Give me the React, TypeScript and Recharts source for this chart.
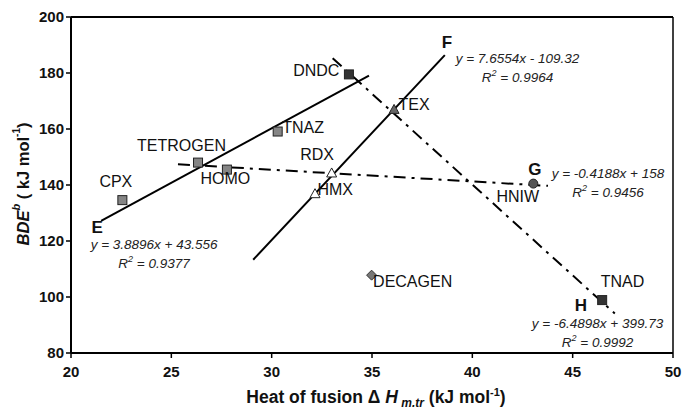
import { ScatterChart, Scatter, XAxis, YAxis, ReferenceLine, LabelList } from 'recharts';

const FONT = '"Liberation Sans", Arial, Helvetica, sans-serif';

// compounds, grouped by marker
const graySquares = [
  { name: 'CPX', x: 22.56, y: 134.6 },
  { name: 'TETROGEN', x: 26.33, y: 148.0 },
  { name: 'HOMO', x: 27.77, y: 145.5 },
  { name: 'TNAZ', x: 30.3, y: 159.1 },
];
const darkSquares = [
  { name: 'DNDC', x: 33.85, y: 179.5 },
  { name: 'TNAD', x: 46.47, y: 98.9 },
];
const filledTriangles = [{ name: 'TEX', x: 36.1, y: 167.0 }];
const openTriangles = [
  { name: 'RDX', x: 32.99, y: 144.3 },
  { name: 'HMX', x: 32.16, y: 136.9 },
];
const circles = [{ name: 'HNIW', x: 43.04, y: 140.5 }];
const diamonds = [{ name: 'DECAGEN', x: 34.98, y: 107.8 }];

// fitted lines, end points
const lineE = [{ x: 21.5, y: 127.2 }, { x: 34.85, y: 179.1 }];
const lineF = [{ x: 29.08, y: 113.3 }, { x: 38.63, y: 186.4 }];
const lineG = [{ x: 25.33, y: 147.4 }, { x: 43.77, y: 139.7 }];
const lineH = [{ x: 33.04, y: 185.3 }, { x: 47.1, y: 94.1 }];

const letters = [
  { text: 'E', x: 21.3, y: 124.8 },
  { text: 'F', x: 38.74, y: 190.9 },
  { text: 'G', x: 43.12, y: 145.5 },
  { text: 'H', x: 45.41, y: 96.8 },
];
const equations = [
  { text: 'y = 3.8896x + 43.556', r2: '0.9377', x: 24.14, y: 118.8 },
  { text: 'y = 7.6554x - 109.32', r2: '0.9964', x: 42.25, y: 185.5 },
  { text: 'y = -0.4188x + 158', r2: '0.9456', x: 46.76, y: 144.4 },
  { text: 'y = -6.4898x + 399.73', r2: '0.9992', x: 46.24, y: 90.7 },
];

const xTicks = [20, 25, 30, 35, 40, 45, 50];
const yTicks = [80, 100, 120, 140, 160, 180, 200];

// where each compound name sits relative to its marker
const nameOffsets: Record<string, [number, number, string]> = {
  CPX: [-2, -14, 'middle'],
  TETROGEN: [-12, -13, 'middle'],
  HOMO: [-22, 13, 'start'],
  TNAZ: [9, 0, 'start'],
  DNDC: [-5, 1, 'end'],
  TNAD: [3, -14, 'start'],
  TEX: [9, 0, 'start'],
  RDX: [-10, -14, 'middle'],
  HMX: [7, 0, 'start'],
  HNIW: [-11, 17, 'middle'],
  DECAGEN: [6, 11, 'start'],
};

const NameLabel = (props: any) => {
  const { x, y, value } = props;
  const [dx, dy, anchor] = nameOffsets[value] || [8, 0, 'start'];
  return (
    <text x={x + dx} y={y + dy} textAnchor={anchor} dominantBaseline="central" fontFamily={FONT} fontSize={16} fill="#111">
      {value}
    </text>
  );
};

const square = (fill: string) => (p: any) => (
  <rect x={p.cx - 4.5} y={p.cy - 4.5} width={9} height={9} fill={fill} stroke="#222" strokeWidth={1} />
);
const triangle = (fill: string) => (p: any) => (
  <path d={`M${p.cx},${p.cy - 5} L${p.cx + 5},${p.cy + 4} L${p.cx - 5},${p.cy + 4} Z`} fill={fill} stroke="#222" strokeWidth={1} />
);
const circle = (p: any) => <circle cx={p.cx} cy={p.cy} r={4.5} fill="#555" stroke="#222" strokeWidth={1} />;
const diamond = (p: any) => (
  <path d={`M${p.cx},${p.cy - 5} L${p.cx + 5},${p.cy} L${p.cx},${p.cy + 5} L${p.cx - 5},${p.cy} Z`} fill="#777" stroke="#333" strokeWidth={1} />
);
const noShape = () => <g />;

const letterShape = (p: any) => (
  <text x={p.cx} y={p.cy} textAnchor="middle" dominantBaseline="central" fontFamily={FONT} fontSize={17} fontWeight="bold" fill="#111">
    {p.payload.text}
  </text>
);
const equationShape = (p: any) => (
  <text x={p.cx} y={p.cy} textAnchor="middle" fontFamily={FONT} fontSize={13.5} fontStyle="italic" fill="#222">
    <tspan x={p.cx} dy={5}>{p.payload.text}</tspan>
    <tspan x={p.cx} dy={19}>R</tspan>
    <tspan dy={-6} fontSize={9}>2</tspan>
    <tspan dy={6}>{'  = ' + p.payload.r2}</tspan>
  </text>
);

const YTitle = () => (
  <text transform="rotate(-90, 23, 184)" x={23} y={184} textAnchor="middle" dominantBaseline="central" fontFamily={FONT} fontSize={16.5} fontWeight="bold" fill="#111">
    <tspan fontStyle="italic">BDE</tspan>
    <tspan fontStyle="italic" fontSize={11} dy={-7}>b</tspan>
    <tspan dy={7}>{' ( kJ mol'}</tspan>
    <tspan fontSize={10} dy={-7}>-1</tspan>
    <tspan dy={7}>)</tspan>
  </text>
);

const XTitle = () => (
  <text x={376} y={403} textAnchor="middle" fontFamily={FONT} fontSize={17.5} fontWeight="bold" fill="#111">
    <tspan>{'Heat of fusion \u0394'}</tspan>
    <tspan fontStyle="italic">{' H'}</tspan>
    <tspan fontStyle="italic" fontSize={12} dy={4}>{' m.tr'}</tspan>
    <tspan dy={-4}>{' (kJ mol'}</tspan>
    <tspan fontSize={11} dy={-7}>-1</tspan>
    <tspan dy={7}>)</tspan>
  </text>
);

const tickStyle = { fontFamily: FONT, fontSize: 15, fontWeight: 'bold', fill: '#111' };
const solid = { stroke: '#000', strokeWidth: 2 };
const dashDot = { stroke: '#000', strokeWidth: 2, strokeDasharray: '12 6 3 6' };

export default function App() {
  return (
    <div style={{ position: 'absolute', left: 0, top: 0, width: 683, height: 412, background: '#fff' }}>
      <ScatterChart width={683} height={412} margin={{ top: 17, right: 10, bottom: 29, left: 11 }}>
        <XAxis
          type="number"
          dataKey="x"
          domain={[20, 50]}
          ticks={xTicks}
          allowDataOverflow
          height={30}
          tick={tickStyle}
          tickSize={5}
          tickMargin={8}
          axisLine={{ stroke: '#000', strokeWidth: 2 }}
          tickLine={{ stroke: '#000', strokeWidth: 1.5 }}
          label={<XTitle />}
        />
        <YAxis
          type="number"
          dataKey="y"
          domain={[80, 200]}
          ticks={yTicks}
          allowDataOverflow
          width={60}
          tick={tickStyle}
          tickSize={5}
          tickMargin={2}
          axisLine={{ stroke: '#000', strokeWidth: 2 }}
          tickLine={{ stroke: '#000', strokeWidth: 1.5 }}
          label={<YTitle />}
        />
        <ReferenceLine y={200} stroke="#000" strokeWidth={2} />
        <ReferenceLine x={50} stroke="#000" strokeWidth={1.5} />

        <Scatter data={lineE} line={solid} shape={noShape} isAnimationActive={false} />
        <Scatter data={lineF} line={solid} shape={noShape} isAnimationActive={false} />
        <Scatter data={lineG} line={dashDot} shape={noShape} isAnimationActive={false} />
        <Scatter data={lineH} line={dashDot} shape={noShape} isAnimationActive={false} />

        <Scatter data={graySquares} shape={square('#858585')} isAnimationActive={false}>
          <LabelList dataKey="name" content={<NameLabel />} />
        </Scatter>
        <Scatter data={darkSquares} shape={square('#333')} isAnimationActive={false}>
          <LabelList dataKey="name" content={<NameLabel />} />
        </Scatter>
        <Scatter data={filledTriangles} shape={triangle('#666')} isAnimationActive={false}>
          <LabelList dataKey="name" content={<NameLabel />} />
        </Scatter>
        <Scatter data={openTriangles} shape={triangle('#fff')} isAnimationActive={false}>
          <LabelList dataKey="name" content={<NameLabel />} />
        </Scatter>
        <Scatter data={circles} shape={circle} isAnimationActive={false}>
          <LabelList dataKey="name" content={<NameLabel />} />
        </Scatter>
        <Scatter data={diamonds} shape={diamond} isAnimationActive={false}>
          <LabelList dataKey="name" content={<NameLabel />} />
        </Scatter>

        <Scatter data={letters} shape={letterShape} isAnimationActive={false} />
        <Scatter data={equations} shape={equationShape} isAnimationActive={false} />
      </ScatterChart>
    </div>
  );
}
